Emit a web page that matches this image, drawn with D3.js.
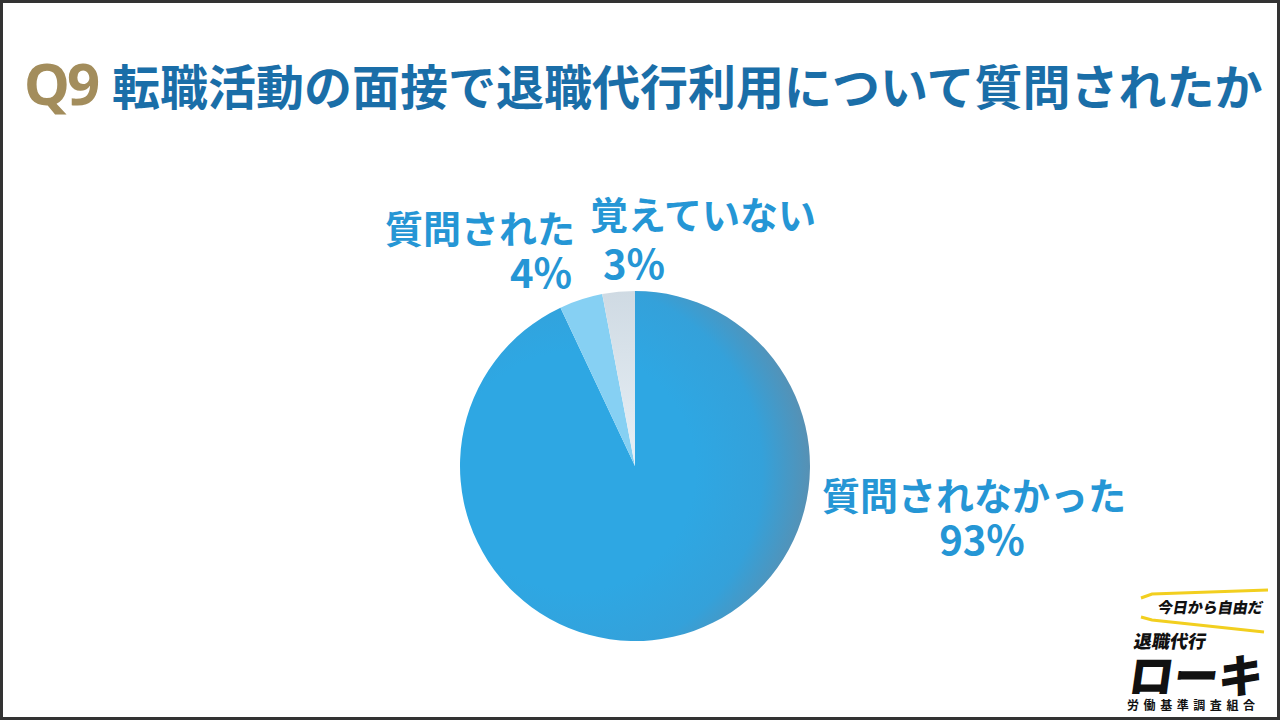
<!DOCTYPE html>
<html>
<head>
<meta charset="utf-8">
<script src="https://cdn.jsdelivr.net/npm/d3@7"></script>
<style>
  html, body { margin: 0; padding: 0; background: #fff; }
  svg { display: block; }
</style>
</head>
<body>
<div id="chart-area"></div>
<script>
const width = 1280;
const height = 720;

const categories = ["質問されなかった", "質問された", "覚えていない"];
const values = [93, 4, 3];
const sliceColors = ["url(#mainGrad)", "#86d0f3", "url(#greyGrad)"];

// label placement (text anchor point, first line / second line)
const labelPos = [
    {x: 974, y: 493, anchor: "middle", px: 982, py: 538, panchor: "middle"},
    {x: 480, y: 226, anchor: "middle", px: 572, py: 271, panchor: "end"},
    {x: 703, y: 212, anchor: "middle", px: 634, py: 262, panchor: "middle"}
];

const font = "'Noto Sans CJK JP', 'Noto Sans', sans-serif";
const blue = "#2596d5";

const svg = d3.select("#chart-area")
    .append("svg")
    .attr("width", width)
    .attr("height", height);

svg.append("rect")
    .attr("x", 1.5).attr("y", 1.5)
    .attr("width", width - 3).attr("height", height - 3)
    .attr("fill", "#fff")
    .attr("stroke", "#333")
    .attr("stroke-width", 3);

// gradients are in the pie group's coordinates (origin = pie centre)
const defs = svg.append("defs");
const mainGrad = defs.append("radialGradient")
    .attr("id", "mainGrad")
    .attr("gradientUnits", "userSpaceOnUse")
    .attr("cx", -60).attr("cy", 5).attr("r", 240);
mainGrad.append("stop").attr("offset", "0.5").attr("stop-color", "#2ea7e3");
mainGrad.append("stop").attr("offset", "0.78").attr("stop-color", "#34a1da");
mainGrad.append("stop").attr("offset", "1").attr("stop-color", "#5a8fb0");

const greyGrad = defs.append("linearGradient")
    .attr("id", "greyGrad")
    .attr("x1", 0).attr("y1", 0).attr("x2", 0).attr("y2", 1);
greyGrad.append("stop").attr("offset", "0").attr("stop-color", "#cfdae3");
greyGrad.append("stop").attr("offset", "1").attr("stop-color", "#e8f0f6");

// title
const title = svg.append("text")
    .attr("x", 24)
    .attr("y", 105)
    .style("font-family", font)
    .style("font-weight", 700);
title.append("tspan")
    .attr("fill", "#a38d5c")
    .style("font-family", "'Noto Sans', sans-serif")
    .style("font-size", "58px")
    .attr("letter-spacing", -3)
    .text("Q9");
title.append("tspan")
    .attr("x", 112)
    .attr("fill", "#1a6ea8")
    .style("font-size", "48px")
    .text("転職活動の面接で退職代行利用について質問されたか");

// pie
const cx = 635, cy = 466, radius = 175;
const pie = d3.pie().sort(null).value(d => d);
const arc = d3.arc().innerRadius(0).outerRadius(radius);

const g = svg.append("g").attr("transform", `translate(${cx}, ${cy})`);
g.selectAll("path")
    .data(pie(values))
    .enter()
    .append("path")
    .attr("d", arc)
    .attr("fill", (d, i) => sliceColors[i]);

// labels
categories.forEach((c, i) => {
    const p = labelPos[i];
    svg.append("text")
        .attr("x", p.x).attr("y", p.y)
        .attr("text-anchor", p.anchor)
        .attr("dominant-baseline", "central")
        .attr("fill", blue)
        .style("font-family", font)
        .style("font-weight", 700)
        .style("font-size", "38px")
        .text(c);
    svg.append("text")
        .attr("x", p.px).attr("y", p.py)
        .attr("text-anchor", p.panchor)
        .attr("dominant-baseline", "central")
        .attr("fill", blue)
        .style("font-family", font)
        .style("font-weight", 700)
        .style("font-size", "40px")
        .text(values[i] + "%");
});

// logo
const logo = svg.append("g");
logo.append("path")
    .attr("d", "M1141,598 L1152,594 L1268,590")
    .attr("fill", "none").attr("stroke", "#f2cf1f").attr("stroke-width", 3);
logo.append("path")
    .attr("d", "M1141,617 L1152,620 L1264,632")
    .attr("fill", "none").attr("stroke", "#f2cf1f").attr("stroke-width", 3);
logo.append("text")
    .attr("x", 1262).attr("y", 613)
    .attr("text-anchor", "end")
    .attr("transform", "skewX(-10)")
    .attr("transform-origin", "1262 613")
    .style("font-family", font).style("font-weight", 900).style("font-size", "15px")
    .attr("fill", "#111")
    .text("今日から自由だ");
logo.append("text")
    .attr("x", 1133).attr("y", 648)
    .attr("transform", "skewX(-10)")
    .attr("transform-origin", "1133 648")
    .style("font-family", font).style("font-weight", 900).style("font-size", "18px")
    .attr("fill", "#111")
    .text("退職代行");
logo.append("text")
    .attr("x", 1127).attr("y", 693)
    .attr("textLength", 134)
    .attr("lengthAdjust", "spacingAndGlyphs")
    .attr("transform", "skewX(-8)")
    .attr("transform-origin", "1127 693")
    .style("font-family", font).style("font-weight", 900).style("font-size", "46px")
    .attr("fill", "#111")
    .text("ローキ");
logo.append("text")
    .attr("x", 1127).attr("y", 710)
    .attr("textLength", 128)
    .attr("lengthAdjust", "spacing")
    .style("font-family", font).style("font-weight", 700).style("font-size", "12px")
    .attr("fill", "#111")
    .text("労働基準調査組合");
</script>
</body>
</html>
